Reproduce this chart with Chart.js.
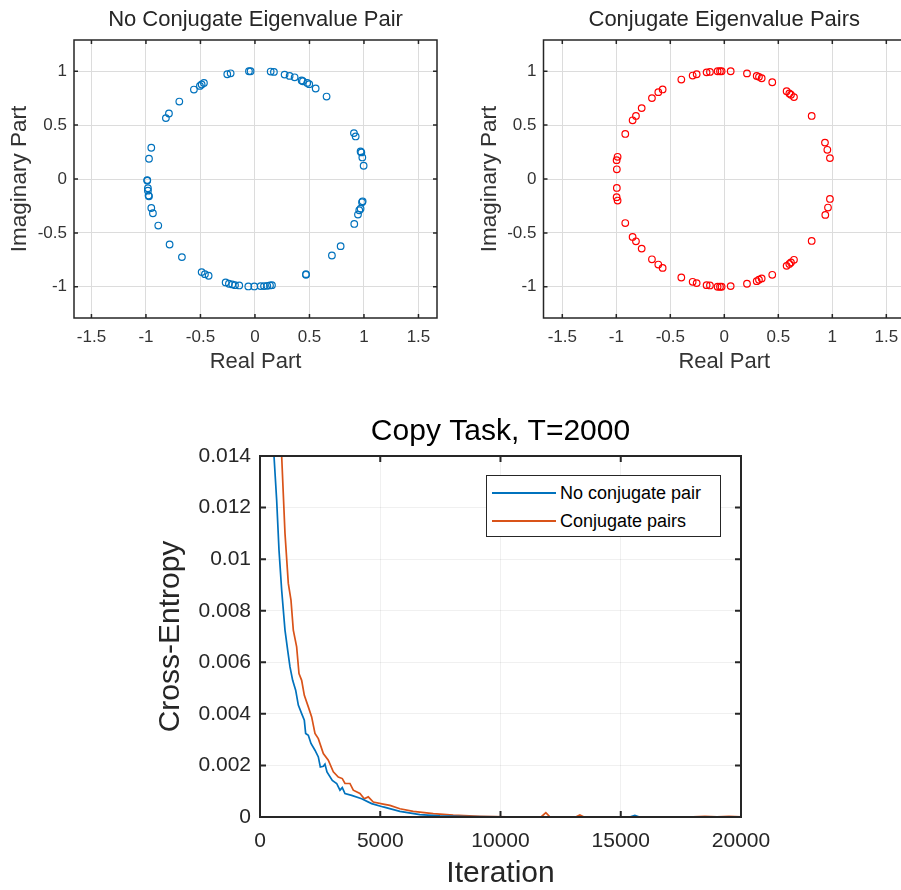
<!DOCTYPE html>
<html>
<head>
<meta charset="utf-8">
<title>Eigenvalues and copy task</title>
<script src="https://cdn.jsdelivr.net/npm/chart.js@4.4.1/dist/chart.umd.min.js"></script>
<style>
  html, body { margin: 0; padding: 0; background: #fff; }
  body { position: relative; width: 901px; height: 890px; overflow: hidden; font-family: "Liberation Sans", Arial, sans-serif; }
  canvas { position: absolute; }
  #c1 { left: 0; top: 0; }
  #c2 { left: 470px; top: 0; }
  #c3 { left: 140px; top: 395px; }
  .legend { position: absolute; left: 486px; top: 475px; width: 235px; height: 62px; padding-top: 3px; box-sizing: border-box; border: 1px solid #262626; background: #fff; font-size: 18px; color: #000; }
  .legend div { position: relative; height: 28px; line-height: 28px; padding-left: 73px; white-space: nowrap; }
  .legend i { position: absolute; left: 5px; top: 13px; width: 64px; height: 0; border-top: 2px solid; }
</style>
</head>
<body>
<canvas id="c1" width="450" height="380"></canvas>
<canvas id="c2" width="435" height="380"></canvas>
<canvas id="c3" width="761" height="495"></canvas>
<div class="legend" id="legend"></div>
<script>
// eigenvalues, no conjugate pair
const noPairRe = [-0.254, -0.223, -0.055, -0.04, 0.144, 0.174, 0.272, 0.318, 0.364, 0.428, 0.44, 0.48, 0.498, 0.557, 0.657,
  -0.468, -0.489, -0.505, -0.56, -0.694, -0.789, -0.817, -0.951, -0.972, -0.988, -0.988, -0.982, -0.982, -0.976, -0.972,
  -0.951, -0.936, -0.887, -0.783, -0.67, -0.489, -0.459, -0.425, -0.269, -0.239, -0.208, -0.183, -0.144, -0.061, -0.006,
  0.052, 0.083, 0.113, 0.138, 0.156, 0.468, 0.468, 0.706, 0.786, 0.908, 0.924, 0.969, 0.976, 0.985, 0.997,
  0.988, 0.982, 0.969, 0.957, 0.945, 0.911];
const noPairIm = [0.972, 0.981, 1.0, 1.0, 0.997, 0.994, 0.969, 0.957, 0.944, 0.914, 0.907, 0.892, 0.88, 0.84, 0.765,
  0.892, 0.877, 0.864, 0.83, 0.719, 0.608, 0.565, 0.29, 0.188, -0.015, -0.01, -0.086, -0.108, -0.154, -0.16,
  -0.269, -0.318, -0.432, -0.608, -0.725, -0.864, -0.883, -0.898, -0.96, -0.972, -0.978, -0.985, -0.988, -0.997, -0.997,
  -0.994, -0.994, -0.991, -0.988, -0.985, -0.883, -0.889, -0.71, -0.623, 0.426, 0.395, 0.256, 0.247, 0.2, 0.123,
  -0.207, -0.216, -0.275, -0.29, -0.33, -0.417];

// eigenvalues, conjugate pairs
const pairRe = [-0.398, -0.293, -0.256, -0.164, -0.133, -0.062, -0.04, -0.025, 0.059, 0.21, 0.3, 0.321, 0.346, 0.444,
  0.577, 0.602, 0.617, 0.645, 0.809, -0.571, -0.611, -0.67, -0.765, -0.818, -0.849, -0.917,
  -0.988, -0.997, -0.995, -0.995, -0.997, -0.988, -0.917, -0.849, -0.818, -0.765, -0.67, -0.611, -0.571,
  -0.398, -0.293, -0.256, -0.164, -0.133, -0.062, -0.04, -0.025, 0.059, 0.21, 0.3, 0.321, 0.346, 0.444,
  0.577, 0.602, 0.617, 0.645, 0.809, 0.932, 0.954, 0.978, 0.978, 0.96, 0.935];
const pairIm = [0.923, 0.96, 0.972, 0.99, 0.994, 1.0, 1.0, 1.0, 1.0, 0.98, 0.957, 0.948, 0.935, 0.898,
  0.815, 0.794, 0.782, 0.76, 0.585, 0.831, 0.806, 0.751, 0.658, 0.585, 0.545, 0.418,
  0.206, 0.175, 0.09, -0.083, -0.169, -0.2, -0.409, -0.538, -0.578, -0.646, -0.745, -0.794, -0.825,
  -0.914, -0.954, -0.966, -0.985, -0.988, -1.0, -1.0, -1.0, -0.994, -0.972, -0.948, -0.935, -0.923, -0.889,
  -0.806, -0.788, -0.775, -0.75, -0.575, 0.338, 0.271, 0.194, -0.185, -0.265, -0.333];

const eigTicksX = [-1.5, -1, -0.5, 0, 0.5, 1, 1.5];
const eigTicksY = [-1, -0.5, 0, 0.5, 1];

// copy task, T=2000
const iterNoPair = [582, 693, 790, 901, 1039, 1150, 1247, 1358, 1483, 1593, 1732, 1843, 1898, 2009, 2120, 2286, 2425,
  2508, 2633, 2701, 2785, 3006, 3188, 3325, 3422, 3533, 3811, 4227, 4642, 5124, 5818, 6650, 7480, 8590, 10000,
  12000, 14000, 15400, 15585, 15750, 17000, 20000];
const ceNoPair = [0.0140, 0.01229, 0.01035, 0.0088, 0.00725, 0.00647, 0.00582, 0.0053, 0.00492, 0.00434, 0.00401,
  0.00375, 0.00324, 0.00317, 0.00285, 0.00259, 0.00233, 0.00194, 0.00197, 0.00205, 0.00175, 0.00142, 0.0013,
  0.00104, 0.00114, 0.00091, 0.00084, 0.00071, 0.00052, 0.00039, 0.00022, 0.00009, 0.00004, 0.00002, 0.00001,
  0.00001, 0.00001, 0.00001, 0.00006, 0.00001, 0.00001, 0.00001];
const iterPair = [901, 1039, 1177, 1288, 1385, 1524, 1621, 1732, 1843, 2009, 2148, 2286, 2425, 2633, 2840, 3048, 3255,
  3422, 3533, 3740, 3879, 4156, 4336, 4502, 4710, 5124, 5403, 5818, 6371, 7203, 8034, 9143, 10252, 11700, 11886,
  12050, 13150, 13300, 13450, 18000, 18500, 19000, 19500, 20000];
const cePair = [0.0140, 0.011, 0.00906, 0.00841, 0.00725, 0.0066, 0.00556, 0.0053, 0.00472, 0.00427, 0.00388, 0.00324,
  0.00304, 0.00246, 0.0022, 0.00175, 0.00155, 0.00149, 0.0013, 0.0013, 0.00104, 0.00091, 0.00071, 0.00078, 0.00058,
  0.0005, 0.00045, 0.00032, 0.00022, 0.00013, 0.00007, 0.00003, 0.00001, 0.00001, 0.00017, 0.00001, 0.00001,
  0.00008, 0.00001, 0.00001, 0.00003, 0.00001, 0.00003, 0.00001];
const lossTicksX = [0, 5000, 10000, 15000, 20000];
const lossTicksY = [0, 0.002, 0.004, 0.006, 0.008, 0.01, 0.012, 0.014];

const FONT = '"Liberation Sans", Arial, sans-serif';
const INK = '#262626';
Chart.defaults.font.family = FONT;
Chart.defaults.color = INK;

// matlab-style box with inward ticks on all four sides
const framePlugin = {
  id: 'frame',
  afterDraw(chart, args, opts) {
    const { ctx, chartArea: a, scales } = chart;
    const len = opts.tick || 5;
    ctx.save();
    ctx.strokeStyle = INK;
    ctx.lineWidth = opts.width || 1;
    ctx.beginPath();
    scales.x.ticks.forEach((t) => {
      const px = scales.x.getPixelForValue(t.value);
      ctx.moveTo(px, a.bottom); ctx.lineTo(px, a.bottom - len);
      ctx.moveTo(px, a.top); ctx.lineTo(px, a.top + len);
    });
    scales.y.ticks.forEach((t) => {
      const py = scales.y.getPixelForValue(t.value);
      ctx.moveTo(a.left, py); ctx.lineTo(a.left + len, py);
      ctx.moveTo(a.right, py); ctx.lineTo(a.right - len, py);
    });
    ctx.stroke();
    ctx.strokeRect(a.left, a.top, a.right - a.left, a.bottom - a.top);
    ctx.restore();
  },
};

const fmt = (v) => String(+v.toFixed(4));

// fixed axis sizes, and no extra room kept for labels that overhang the box
const fixX = (h) => (s) => { s.height = h; s.paddingLeft = 0; s.paddingRight = 0; };
const fixY = (w) => (s) => { s.width = w; s.paddingTop = 0; s.paddingBottom = 0; };

const makeEig = (id, title, re, im, color, xMin, xMax, yWidth, padRight) =>
  new Chart(document.getElementById(id), {
    type: 'scatter',
    data: {
      datasets: [{
        data: re.map((x, i) => ({ x, y: im[i] })),
        borderColor: color,
        backgroundColor: 'rgba(0,0,0,0)',
        pointRadius: 3.3,
        pointHoverRadius: 3.3,
        borderWidth: 1.2,
      }],
    },
    options: {
      responsive: false,
      animation: false,
      events: [],
      layout: { autoPadding: false, padding: { right: padRight, left: 0, top: 0, bottom: 0 } },
      plugins: {
        legend: { display: false },
        tooltip: { enabled: false },
        title: { display: true, text: title, fullSize: false, font: { size: 22, weight: 'normal' }, color: INK, padding: { top: 7, bottom: 6.6 } },
        frame: { width: 1.5, tick: 4 },
      },
      scales: {
        x: {
          type: 'linear', min: xMin, max: xMax,
          afterBuildTicks: (s) => { s.ticks = eigTicksX.map((v) => ({ value: v })); },
          afterFit: fixX(62),
          ticks: { font: { size: 17 }, color: '#333', padding: 9, maxRotation: 0, callback: fmt },
          grid: { color: '#dcdcdc', drawTicks: false, lineWidth: 1 },
          border: { display: false },
          title: { display: true, text: 'Real Part', font: { size: 22 }, color: '#333', padding: { top: 0, bottom: 5 } },
        },
        y: {
          type: 'linear', min: -1.29, max: 1.29,
          afterBuildTicks: (s) => { s.ticks = eigTicksY.map((v) => ({ value: v })); },
          afterFit: fixY(yWidth),
          ticks: { font: { size: 17 }, color: '#333', padding: 7, callback: fmt },
          grid: { color: '#dcdcdc', drawTicks: false, lineWidth: 1 },
          border: { display: false },
          title: { display: true, text: 'Imaginary Part', font: { size: 22.5 }, color: '#333', padding: { top: 6, bottom: 0 } },
        },
      },
    },
    plugins: [framePlugin],
  });

makeEig('c1', 'No Conjugate Eigenvalue Pair', noPairRe, noPairIm, '#0072BD', -1.66, 1.67, 74, 13);
makeEig('c2', 'Conjugate Eigenvalue Pairs', pairRe, pairIm, '#FF0000', -1.674, 1.673, 73.5, 0);

const lossChart = new Chart(document.getElementById('c3'), {
  type: 'line',
  data: {
    datasets: [
      { label: 'No conjugate pair', data: iterNoPair.map((x, i) => ({ x, y: ceNoPair[i] })), borderColor: '#0072BD', borderWidth: 1.7, pointRadius: 0, tension: 0, fill: false },
      { label: 'Conjugate pairs', data: iterPair.map((x, i) => ({ x, y: cePair[i] })), borderColor: '#D95319', borderWidth: 1.7, pointRadius: 0, tension: 0, fill: false },
    ],
  },
  options: {
    responsive: false,
    animation: false,
    events: [],
    layout: { autoPadding: false, padding: { right: 160, left: 0, top: 0, bottom: 0 } },
    plugins: {
      legend: { display: false },
      tooltip: { enabled: false },
      title: { display: true, text: 'Copy Task, T=2000', fullSize: false, font: { size: 30, weight: 'normal' }, color: '#000', padding: { top: 19, bottom: 6 } },
      frame: { width: 2, tick: 6 },
    },
    scales: {
      x: {
        type: 'linear', min: 0, max: 20000,
        afterBuildTicks: (s) => { s.ticks = lossTicksX.map((v) => ({ value: v })); },
        afterFit: fixX(73),
        ticks: { font: { size: 21 }, color: INK, padding: 12, maxRotation: 0, callback: fmt },
        grid: { color: 'rgba(0,0,0,0.06)', drawTicks: false },
        border: { display: false },
        title: { display: true, text: 'Iteration', font: { size: 30, lineHeight: 1 }, color: INK, padding: { top: 0, bottom: 1 } },
      },
      y: {
        type: 'linear', min: 0, max: 0.014,
        afterBuildTicks: (s) => { s.ticks = lossTicksY.map((v) => ({ value: v })); },
        afterFit: fixY(120),
        ticks: { font: { size: 21 }, color: INK, padding: 9, callback: fmt },
        grid: { color: 'rgba(0,0,0,0.06)', drawTicks: false },
        border: { display: false },
        title: { display: true, text: 'Cross-Entropy', font: { size: 30 }, color: INK, padding: { top: 13, bottom: 0 } },
      },
    },
  },
  plugins: [framePlugin],
});

// legend box inside the plot, top right
const legendNode = document.getElementById('legend');
lossChart.data.datasets.forEach((ds) => {
  const row = document.createElement('div');
  const swatch = document.createElement('i');
  swatch.style.borderColor = ds.borderColor;
  row.appendChild(swatch);
  row.appendChild(document.createTextNode(ds.label));
  legendNode.appendChild(row);
});
</script>
</body>
</html>
